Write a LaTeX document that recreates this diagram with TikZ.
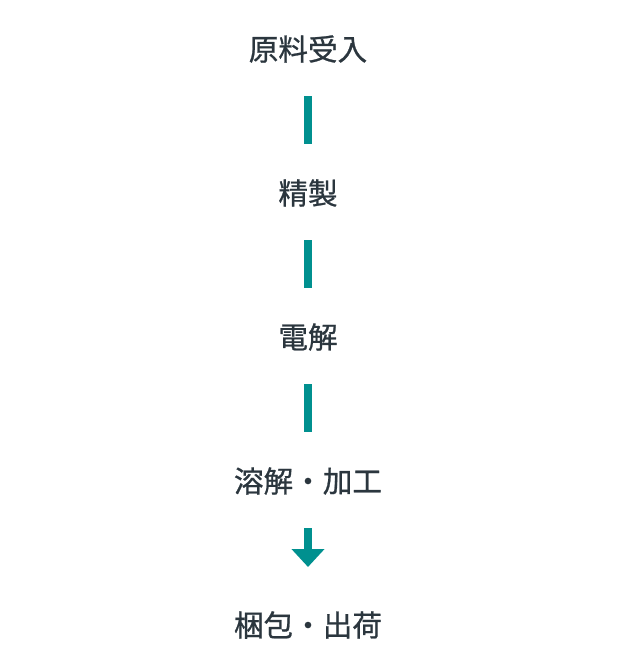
\documentclass[tikz,border=0pt]{standalone}
\usepackage{fontspec}
\newfontfamily\cjk[FakeBold=0.8]{Noto Sans CJK JP}
\usetikzlibrary{arrows.meta}
\definecolor{teal1}{HTML}{00908F}
\definecolor{ink}{HTML}{2B363E}
\begin{document}
\begin{tikzpicture}[x=1pt,y=-1pt,
  stepnode/.style={inner sep=0pt,text=ink,font=\cjk\fontsize{29.6}{30}\selectfont},
  bar/.style={draw=teal1,line width=8pt,shorten <=47pt,shorten >=49pt},
  arr/.style={draw=teal1,line width=8pt,shorten <=47pt,shorten >=58pt,-{Triangle[width=32pt,length=18pt]}}]
\useasboundingbox (0,0) rectangle (616,672);
\node[stepnode] (a) at (308,49) {原料受入};
\node[stepnode] (b) at (308,193) {精製};
\node[stepnode] (c) at (308,337) {電解};
\node[stepnode] (d) at (308,481) {溶解・加工};
\node[stepnode] (e) at (308,625) {梱包・出荷};
\draw[bar] (a.center) -- (b.center);
\draw[bar] (b.center) -- (c.center);
\draw[bar] (c.center) -- (d.center);
\draw[arr] (d.center) -- (e.center);
\end{tikzpicture}
\end{document}
